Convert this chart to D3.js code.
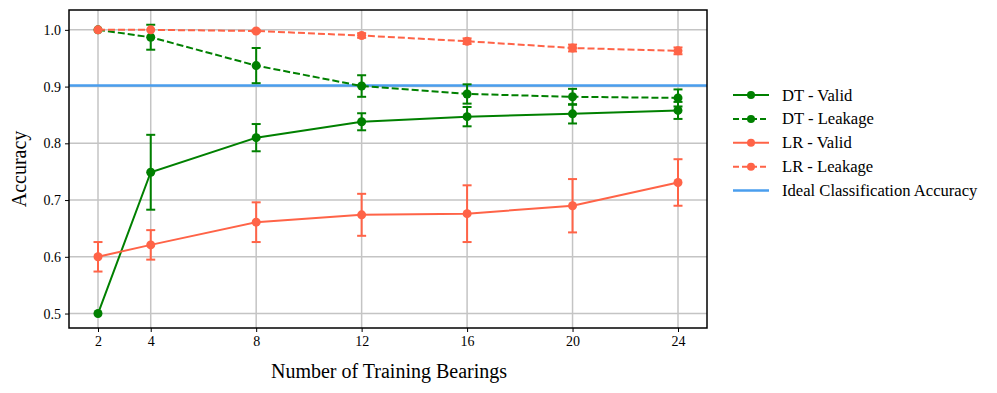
<!DOCTYPE html>
<html>
<head>
<meta charset="utf-8">
<script src="https://cdn.jsdelivr.net/npm/d3@7"></script>
<style>
  body { margin: 0; background: #fff; }
  svg { font-family: "Liberation Serif", "DejaVu Serif", serif; }
</style>
</head>
<body>
<svg id="chart" width="997" height="393"></svg>
<script>
// data
const bearings = [2, 4, 8, 12, 16, 20, 24];
const yTicks = [0.5, 0.6, 0.7, 0.8, 0.9, 1.0];
const idealAccuracy = 0.902;

const dtValid = [0.500, 0.749, 0.810, 0.838, 0.847, 0.852, 0.858];
const dtValidErr = [0.000, 0.066, 0.024, 0.015, 0.017, 0.017, 0.015];
const dtLeakage = [1.000, 0.987, 0.937, 0.901, 0.887, 0.882, 0.880];
const dtLeakageErr = [0.000, 0.022, 0.031, 0.019, 0.017, 0.014, 0.015];
const lrValid = [0.600, 0.621, 0.661, 0.674, 0.676, 0.690, 0.731];
const lrValidErr = [0.026, 0.026, 0.035, 0.037, 0.050, 0.047, 0.041];
const lrLeakage = [1.000, 1.000, 0.998, 0.990, 0.980, 0.968, 0.963];
const lrLeakageErr = [0.000, 0.000, 0.002, 0.004, 0.005, 0.006, 0.006];

const series = [
  { name: 'DT - Valid', values: dtValid, err: dtValidErr, color: '#008000', dash: null },
  { name: 'DT - Leakage', values: dtLeakage, err: dtLeakageErr, color: '#008000', dash: '7,3' },
  { name: 'LR - Valid', values: lrValid, err: lrValidErr, color: '#ff6347', dash: null },
  { name: 'LR - Leakage', values: lrLeakage, err: lrLeakageErr, color: '#ff6347', dash: '7,3' }
];
const idealColor = '#4a9eee';

const svg = d3.select('#chart');
const margin = { left: 69, right: 290, top: 10, bottom: 65 };
const width = 997 - margin.left - margin.right;
const height = 393 - margin.top - margin.bottom;

const g = svg.append('g').attr('transform', `translate(${margin.left},${margin.top})`);

// matplotlib style 5% padding
const x = d3.scaleLinear().domain([0.9, 25.1]).range([0, width]);
const y = d3.scaleLinear().domain([0.4745, 1.035]).range([height, 0]);

// grid
g.append('g')
  .selectAll('line')
  .data(bearings)
  .join('line')
  .attr('x1', d => x(d)).attr('x2', d => x(d))
  .attr('y1', 0).attr('y2', height)
  .attr('stroke', '#c4c4c4').attr('stroke-width', 1.5);

g.append('g')
  .selectAll('line')
  .data(yTicks)
  .join('line')
  .attr('x1', 0).attr('x2', width)
  .attr('y1', d => y(d)).attr('y2', d => y(d))
  .attr('stroke', '#c4c4c4').attr('stroke-width', 1.5);

// axes
const xAxis = g.append('g')
  .attr('transform', `translate(0,${height})`)
  .call(d3.axisBottom(x).tickValues(bearings).tickSize(4).tickPadding(4));
const yAxis = g.append('g')
  .call(d3.axisLeft(y).tickValues(yTicks).tickFormat(d3.format('.1f')).tickSize(4).tickPadding(4));

[xAxis, yAxis].forEach(a => {
  a.select('.domain').remove();
  a.selectAll('.tick line').attr('stroke', '#000').attr('stroke-width', 1);
  a.selectAll('.tick text').attr('font-size', 14).attr('fill', '#000')
    .attr('font-family', '"Liberation Serif", serif');
});

// ideal accuracy line
g.append('line')
  .attr('x1', 0).attr('x2', width)
  .attr('y1', y(idealAccuracy)).attr('y2', y(idealAccuracy))
  .attr('stroke', idealColor).attr('stroke-width', 2.5);

const line = d3.line()
  .x((d, i) => x(bearings[i]))
  .y(d => y(d));

series.forEach(s => {
  const sg = g.append('g');
  sg.append('path')
    .datum(s.values)
    .attr('d', line)
    .attr('fill', 'none')
    .attr('stroke', s.color)
    .attr('stroke-width', 2)
    .attr('stroke-dasharray', s.dash);

  const bars = s.values.map((v, i) => ({ x: bearings[i], v, e: s.err[i] })).filter(d => d.e > 0);
  sg.selectAll('.eb')
    .data(bars)
    .join('line')
    .attr('x1', d => x(d.x)).attr('x2', d => x(d.x))
    .attr('y1', d => y(d.v - d.e)).attr('y2', d => y(d.v + d.e))
    .attr('stroke', s.color).attr('stroke-width', 2);
  ['lo', 'hi'].forEach(k => {
    sg.selectAll('.cap-' + k)
      .data(bars)
      .join('line')
      .attr('x1', d => x(d.x) - 4.5).attr('x2', d => x(d.x) + 4.5)
      .attr('y1', d => y(k === 'lo' ? d.v - d.e : d.v + d.e))
      .attr('y2', d => y(k === 'lo' ? d.v - d.e : d.v + d.e))
      .attr('stroke', s.color).attr('stroke-width', 2);
  });

  sg.selectAll('circle')
    .data(s.values)
    .join('circle')
    .attr('cx', (d, i) => x(bearings[i]))
    .attr('cy', d => y(d))
    .attr('r', 4.5)
    .attr('fill', s.color);
});

// frame
g.append('rect')
  .attr('width', width).attr('height', height)
  .attr('fill', 'none').attr('stroke', '#000').attr('stroke-width', 1.5);

// axis labels
svg.append('text')
  .attr('x', margin.left + width / 2 + 1)
  .attr('y', 378)
  .attr('text-anchor', 'middle')
  .attr('font-size', 20)
  .text('Number of Training Bearings');

svg.append('text')
  .attr('transform', `translate(26,${margin.top + height / 2}) rotate(-90)`)
  .attr('text-anchor', 'middle')
  .attr('font-size', 20)
  .text('Accuracy');

// legend
const legendItems = series.concat([{ name: 'Ideal Classification Accuracy', color: idealColor, dash: null, ideal: true }]);
const legend = svg.append('g').attr('transform', 'translate(733,95)');
legendItems.forEach((item, i) => {
  const row = legend.append('g').attr('transform', `translate(0,${i * 23.9})`);
  row.append('line')
    .attr('x1', 0).attr('x2', 36)
    .attr('stroke', item.color)
    .attr('stroke-width', item.ideal ? 2.5 : 2)
    .attr('stroke-dasharray', item.dash ? '6,3' : null);
  if (!item.ideal) {
    row.append('circle').attr('cx', 18).attr('r', 4).attr('fill', item.color);
  }
  row.append('text')
    .attr('x', 49)
    .attr('y', 5.5)
    .attr('font-size', 16.6)
    .text(item.name);
});
</script>
</body>
</html>
